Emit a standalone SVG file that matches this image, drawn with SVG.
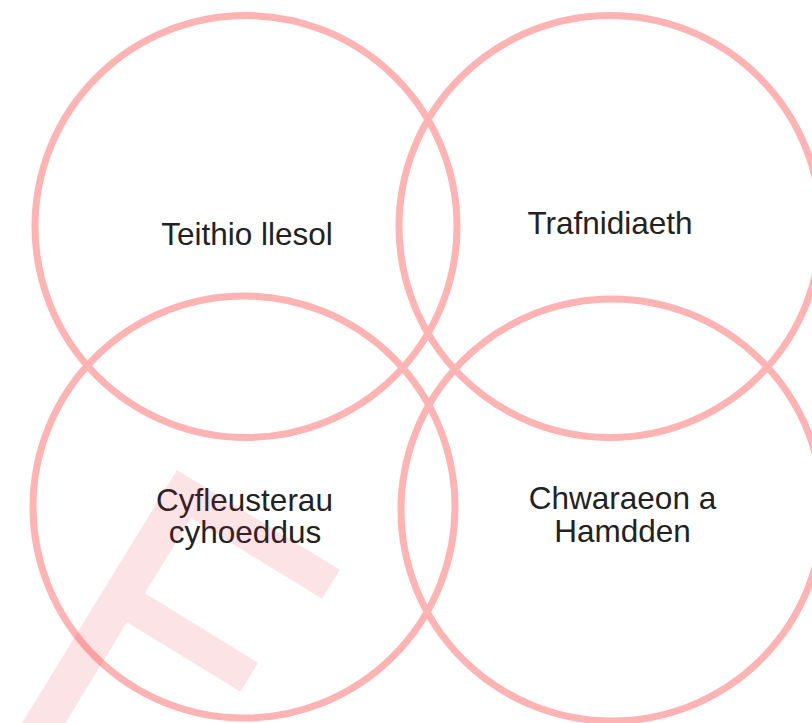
<svg xmlns="http://www.w3.org/2000/svg" width="812" height="723" viewBox="0 0 812 723">
  <style>
    .ring { fill: none; stroke: #FFB3B3; stroke-width: 7; }
    .label { font-family: "Liberation Sans", Arial, sans-serif; font-size: 31.5px; fill: #222222; text-anchor: middle; }
    .mark { fill: #E8192C; fill-opacity: 0.12; }
  </style>
  <rect x="0" y="0" width="812" height="723" fill="#FFFFFF"/>
  <g id="node-teithio">
    <circle class="ring" cx="246" cy="226.5" r="211"/>
    <text class="label" x="247" y="245">Teithio llesol</text>
  </g>
  <g id="node-trafnidiaeth">
    <circle class="ring" cx="610" cy="226.5" r="211"/>
    <text class="label" x="610" y="234">Trafnidiaeth</text>
  </g>
  <g id="node-cyfleusterau">
    <circle class="ring" cx="244" cy="507" r="211"/>
    <text class="label" x="244.5" y="510.5">Cyfleusterau</text>
    <text class="label" x="245" y="543">cyhoeddus</text>
  </g>
  <g id="node-chwaraeon">
    <circle class="ring" cx="612" cy="510" r="211"/>
    <text class="label" x="622.5" y="509">Chwaraeon a</text>
    <text class="label" x="622.5" y="541.5">Hamdden</text>
  </g>
  <g id="connectors"></g>
  <g id="watermark" transform="translate(177,470) rotate(31.5)">
    <polygon class="mark" points="0,0 191,0 191,34 37,34 37,122 170,122 170,156 37,156 37,340 0,340"/>
  </g>
</svg>
